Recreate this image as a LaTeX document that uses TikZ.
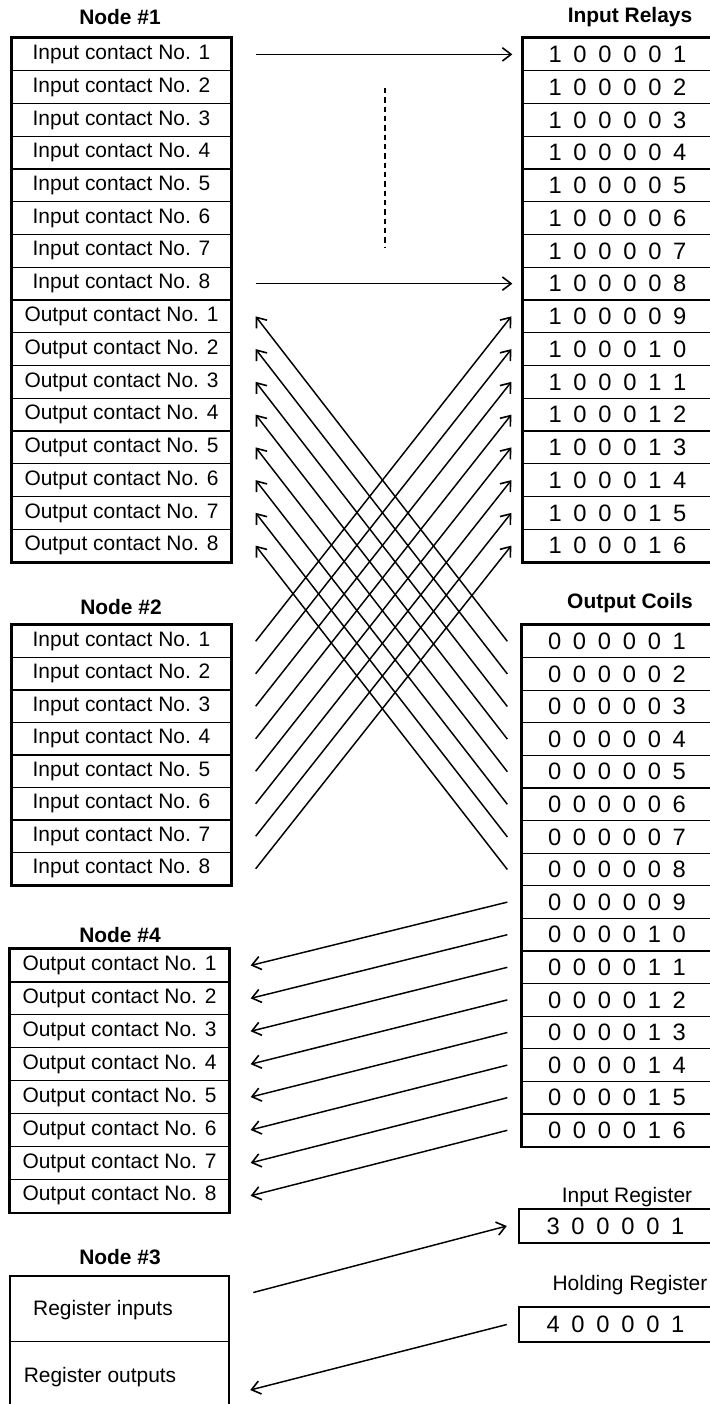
\documentclass[tikz,border=0pt]{standalone}
\usepackage{fontspec}
\setmainfont{Liberation Sans}
\usetikzlibrary{arrows.meta,calc}
\newcommand\mydigfont{\fontsize{17.8pt}{20pt}\selectfont\spaceskip 8.8pt\relax}
\tikzset{
  lbl/.style={font=\fontsize{15.7pt}{18pt}\selectfont},
  ttl/.style={font=\fontsize{15.7pt}{18pt}\selectfont\bfseries},
  digs/.style={font=\mydigfont},
  rowbase/.style={draw, line width=1pt, inner sep=0pt},
  leftrow/.style={rowbase, lbl, minimum width=164.25pt, minimum height=#1},
  rightrow/.style={rowbase, digs, minimum width=142.5pt, minimum height=#1},
  outer/.style={draw, line width=1.8pt},
  conn/.style={line width=1.1pt, -{Straight Barb[length=6.5pt,width=10pt,line width=1.2pt]}},
  dotline/.style={line width=1.4pt, dash pattern=on 4pt off 3pt}
}
\begin{document}
\begin{tikzpicture}[x=0.75pt,y=-0.75pt]
\useasboundingbox (0,0) rectangle (710,1404);
\clip (0,0) rectangle (710,1404);

% ---------- titles ----------
\node[ttl] (t1) at (120,17) {Node \#1};
\node[ttl] (tir) at (630,17) {Input Relays};
\node[ttl] (t2) at (121,607) {Node \#2};
\node[ttl] (toc) at (630,603) {Output Coils};
\node[ttl] (t4) at (120,935) {Node \#4};
\node[ttl] (t3) at (120,1257) {Node \#3};
\node[lbl] (tireg) at (627,1197) {Input Register};
\node[lbl] (threg) at (630,1285) {Holding Register};

% ---------- Node #1 ----------
\foreach \i in {1,...,8}{
  \pgfmathsetmacro\yy{38+(\i-0.5)*32.75}
  \node[leftrow=24.56pt] (n1r\i) at (121.5,\yy) {Input contact No. \i};
}
\foreach \i [evaluate=\i as \k using int(\i+8)] in {1,...,8}{
  \pgfmathsetmacro\yy{38+(\k-0.5)*32.75}
  \node[leftrow=24.56pt] (n1r\k) at (121.5,\yy) {Output contact No. \i};
}
\draw[outer] (n1r1.north west) rectangle (n1r16.south east);

% ---------- Input Relays ----------
\foreach \i in {1,...,9}{
  \pgfmathsetmacro\yy{38+(\i-0.5)*32.75}
  \node[rightrow=24.56pt, minimum width=141.75pt] (ir\i) at (617.5,\yy) {1 0 0 0 0 \i};
}
\foreach \i [evaluate=\i as \k using int(\i+10)] in {0,...,6}{
  \pgfmathsetmacro\yy{38+(\k-0.5)*32.75}
  \node[rightrow=24.56pt, minimum width=141.75pt] (ir\k) at (617.5,\yy) {1 0 0 0 1 \i};
}
\draw[outer] (ir1.north west) rectangle (ir16.south east);

% ---------- Node #2 ----------
\foreach \i in {1,...,8}{
  \pgfmathsetmacro\yy{625+(\i-0.5)*32.5}
  \node[leftrow=24.375pt] (n2r\i) at (121.5,\yy) {Input contact No. \i};
}
\draw[outer] (n2r1.north west) rectangle (n2r8.south east);

% ---------- Output Coils ----------
\foreach \i in {1,...,9}{
  \pgfmathsetmacro\yy{625+(\i-0.5)*32.6}
  \node[rightrow=24.45pt] (oc\i) at (617,\yy) {0 0 0 0 0 \i};
}
\foreach \i [evaluate=\i as \k using int(\i+10)] in {0,...,6}{
  \pgfmathsetmacro\yy{625+(\k-0.5)*32.6}
  \node[rightrow=24.45pt] (oc\k) at (617,\yy) {0 0 0 0 1 \i};
}
\draw[outer] (oc1.north west) rectangle (oc16.south east);

% ---------- Node #4 ----------
\foreach \i in {1,...,8}{
  \pgfmathsetmacro\yy{949+(\i-0.5)*32.9}
  \node[leftrow=24.675pt] (n4r\i) at (119.5,\yy) {Output contact No. \i};
}
\draw[outer] (n4r1.north west) rectangle (n4r8.south east);

% ---------- Node #3 ----------
\node[inner sep=0pt, minimum width=164.25pt, minimum height=48.75pt] (n3in) at (119.5,1308.5) {};
\node[inner sep=0pt, minimum width=164.25pt, minimum height=48.75pt] (n3out) at (119.5,1373.5) {};
\draw[line width=1pt] (n3in.south west) -- (n3in.south east);
\draw[outer] (n3out.south west) -- (n3in.north west) -- (n3in.north east) -- (n3out.south east);
\node[lbl] (n3intext) at (103,1310) {Register inputs};
\node[lbl] (n3outtext) at (100,1377) {Register outputs};

% ---------- Registers ----------
\node[rowbase, digs, line width=1.8pt, minimum width=144.75pt, minimum height=25.5pt] (ireg) at (615.5,1226) {3 0 0 0 0 1};
\node[rowbase, digs, line width=1.8pt, minimum width=144.75pt, minimum height=26.25pt] (hreg) at (615.5,1324.5) {4 0 0 0 0 1};

% ---------- connectors ----------
\draw[conn] ($(n1r1.east)+(24,0)$) -- ($(ir1.west)+(-10,0)$);
\draw[conn] ($(n1r8.east)+(24,0)$) -- ($(ir8.west)+(-10,0)$);
\coordinate (dtop) at (385,88);
\coordinate (dbot) at (385,248);
\draw[dotline] (dtop) -- (dbot);

\foreach \i [evaluate=\i as \k using int(\i+8)] in {1,...,8}{
  \draw[conn] ($(n2r\i.east)+(24,0)$) -- ($(ir\k.west)+(-11,0)$);
  \draw[conn] ($(oc\i.west)+(-14,0)$) -- ($(n1r\k.east)+(24,0)$);
  \draw[conn] ($(oc\k.west)+(-14,0)$) -- ($(n4r\i.east)+(21,0)$);
}

\draw[conn] ($(n3in.east)+(24,-16)$) -- ($(ireg.west)+(-11,0)$);
\draw[conn] ($(hreg.west)+(-11,0)$) -- ($(n3out.east)+(21,16.5)$);
\end{tikzpicture}
\end{document}
